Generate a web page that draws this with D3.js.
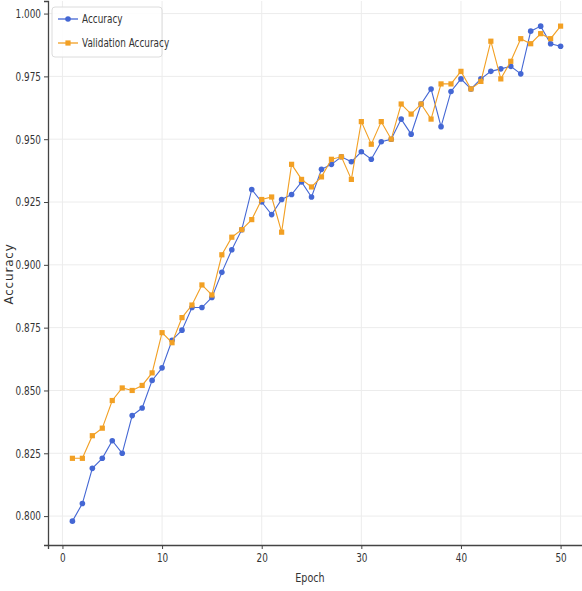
<!DOCTYPE html>
<html>
<head>
<meta charset="utf-8">
<script src="https://cdn.jsdelivr.net/npm/d3@7"></script>
<style>
  html, body { margin: 0; padding: 0; background: #fff; }
  svg { display: block; }
  text { font-family: "DejaVu Sans", sans-serif; fill: #333; }
</style>
</head>
<body>
<svg id="chart" width="582" height="591"></svg>
<script>
// Training history: accuracy per epoch for training and validation
const epochs = d3.range(1, 51);
const accuracy = [
  0.798, 0.805, 0.819, 0.823, 0.830, 0.825, 0.840, 0.843, 0.854, 0.859,
  0.870, 0.874, 0.883, 0.883, 0.887, 0.897, 0.906, 0.914, 0.930, 0.925,
  0.920, 0.926, 0.928, 0.933, 0.927, 0.938, 0.940, 0.943, 0.941, 0.945,
  0.942, 0.949, 0.950, 0.958, 0.952, 0.964, 0.970, 0.955, 0.969, 0.974,
  0.970, 0.974, 0.977, 0.978, 0.979, 0.976, 0.993, 0.995, 0.988, 0.987
];
const valAccuracy = [
  0.823, 0.823, 0.832, 0.835, 0.846, 0.851, 0.850, 0.852, 0.857, 0.873,
  0.869, 0.879, 0.884, 0.892, 0.888, 0.904, 0.911, 0.914, 0.918, 0.926,
  0.927, 0.913, 0.940, 0.934, 0.931, 0.935, 0.942, 0.943, 0.934, 0.957,
  0.948, 0.957, 0.950, 0.964, 0.960, 0.964, 0.958, 0.972, 0.972, 0.977,
  0.970, 0.973, 0.989, 0.974, 0.981, 0.990, 0.988, 0.992, 0.990, 0.995
];
const xTicks = [0, 10, 20, 30, 40, 50];
const yTicks = [0.800, 0.825, 0.850, 0.875, 0.900, 0.925, 0.950, 0.975, 1.000];
const seriesNames = ["Accuracy", "Validation Accuracy"];
const seriesColors = ["#4467d4", "#f2a024"];

const svg = d3.select("#chart");
const plotL = 48, plotR = 585, plotT = 1, plotB = 545;

const x = d3.scaleLinear().domain([-1.45, 52.45]).range([plotL, plotR]);
const y = d3.scaleLinear().domain([0.7885, 1.005]).range([plotB, plotT]);

// narrow-looking labels
const squeeze = 0.74;
function narrowText(sel, px, py) {
  sel.attr("transform", `translate(${px},${py}) scale(${squeeze},1)`);
}

// grid
const grid = svg.append("g");
grid.selectAll(".gx").data(xTicks).join("line")
  .attr("x1", d => x(d)).attr("x2", d => x(d))
  .attr("y1", plotT).attr("y2", plotB)
  .attr("stroke", "#ececec").attr("stroke-width", 1);
grid.selectAll(".gy").data(yTicks).join("line")
  .attr("x1", plotL).attr("x2", plotR)
  .attr("y1", d => y(d)).attr("y2", d => y(d))
  .attr("stroke", "#ececec").attr("stroke-width", 1);

// axes
const xAxis = d3.axisBottom(x).tickValues(xTicks).tickSize(4).tickPadding(4).tickFormat(d3.format("d"));
const yAxis = d3.axisLeft(y).tickValues(yTicks).tickSize(4).tickPadding(3).tickFormat(d3.format(".3f"));

const gx = svg.append("g").attr("transform", `translate(0,${plotB})`).call(xAxis);
const gy = svg.append("g").attr("transform", `translate(${plotL},0)`).call(yAxis);
[gx, gy].forEach(g => {
  g.select(".domain").attr("stroke", "#444").attr("stroke-width", 1.3);
  g.selectAll(".tick line").attr("stroke", "#444");
  g.selectAll(".tick text").attr("font-size", 12).attr("fill", "#333")
    .style("font-family", "DejaVu Sans, sans-serif");
});
gx.selectAll(".tick text").attr("transform", `scale(${squeeze},1)`).attr("x", 0);
gy.selectAll(".tick text").attr("transform", `translate(-7,0) scale(${squeeze},1)`).attr("x", 0);

// axis titles
svg.append("text").text("Epoch").attr("text-anchor", "middle").attr("font-size", 13)
  .call(narrowText, 310, 582);
svg.append("text").text("Accuracy").attr("text-anchor", "middle").attr("font-size", 12)
  .attr("letter-spacing", 0.8)
  .attr("transform", "translate(13,274) rotate(-90)");

// series
const series = [accuracy, valAccuracy];
const line = d3.line().x((d, i) => x(epochs[i])).y(d => y(d));
series.forEach((vals, si) => {
  const g = svg.append("g");
  g.append("path").datum(vals).attr("d", line)
    .attr("fill", "none").attr("stroke", seriesColors[si]).attr("stroke-width", 1.1);
  if (si === 0) {
    g.selectAll("circle").data(vals).join("circle")
      .attr("cx", (d, i) => x(epochs[i])).attr("cy", d => y(d)).attr("r", 2.8)
      .attr("fill", seriesColors[si]);
  } else {
    g.selectAll("rect").data(vals).join("rect")
      .attr("x", (d, i) => x(epochs[i]) - 2.6).attr("y", d => y(d) - 2.6)
      .attr("width", 5.2).attr("height", 5.2)
      .attr("fill", seriesColors[si]);
  }
});

// legend
const lg = svg.append("g").attr("transform", "translate(52,7)");
lg.append("rect").attr("width", 110).attr("height", 50).attr("rx", 3)
  .attr("fill", "#fff").attr("fill-opacity", 0.85).attr("stroke", "#dcdcdc");
seriesNames.forEach((name, i) => {
  const yy = 12 + i * 24;
  lg.append("line").attr("x1", 6).attr("x2", 26).attr("y1", yy).attr("y2", yy)
    .attr("stroke", seriesColors[i]).attr("stroke-width", 1.3);
  if (i === 0) {
    lg.append("circle").attr("cx", 16).attr("cy", yy).attr("r", 2.8).attr("fill", seriesColors[i]);
  } else {
    lg.append("rect").attr("x", 13.4).attr("y", yy - 2.6).attr("width", 5.2).attr("height", 5.2)
      .attr("fill", seriesColors[i]);
  }
  lg.append("text").text(name).attr("font-size", 12).attr("dy", "0.35em")
    .call(narrowText, 30, yy);
});
</script>
</body>
</html>
